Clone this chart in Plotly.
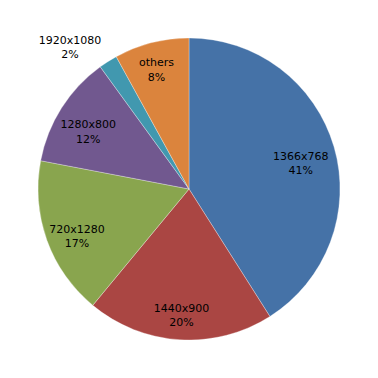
import plotly.graph_objects as go

labels = ["1366x768", "1440x900", "720x1280", "1280x800", "1920x1080", "others"]
values = [41, 20, 17, 12, 2, 8]
colors = ["#4572A7", "#AA4643", "#89A54E", "#71588F", "#4198AF", "#DB843D"]
outside_pos = ["none", "none", "none", "none", "outside", "none"]
inside_pos = ["inside", "inside", "inside", "inside", "none", "inside"]
label_pull = [0.0, 0.025, 0.018, 0.02, 0.0, 0.06]

S = 378.0
R = 151.0
tfont = dict(family="DejaVu Sans", size=11, color="black")
clear = ["rgba(0,0,0,0)"] * len(labels)

fig = go.Figure()
# the visible pie
fig.add_trace(go.Pie(
    labels=labels, values=values, sort=False,
    direction="clockwise", rotation=0,
    marker=dict(colors=colors, line=dict(color="rgba(255,255,255,0.6)", width=0.5)),
    textinfo="none",
    hoverinfo="label+percent",
    domain=dict(x=[30/S, 332/S], y=[46/S, 348/S]),
    showlegend=False,
))
# transparent overlay holding the outside label
fig.add_trace(go.Pie(
    labels=labels, values=values, sort=False,
    direction="clockwise", rotation=0,
    marker=dict(colors=clear, line=dict(width=0)),
    texttemplate="%{label}<br>%{percent:.0%}",
    textposition=outside_pos,
    textfont=tfont,
    hoverinfo="skip",
    domain=dict(x=[30/S, 332/S], y=[50/S, 352/S]),
    showlegend=False,
))
# transparent ring overlay holding the inside labels
half = R * (1 + max(label_pull))
cx, cy = 181.0, 378.0 - 188.0
fig.add_trace(go.Pie(
    labels=labels, values=values, sort=False,
    direction="clockwise", rotation=0,
    hole=0.54,
    pull=label_pull,
    marker=dict(colors=clear, line=dict(width=0)),
    texttemplate="%{label}<br>%{percent:.0%}",
    textposition=inside_pos,
    insidetextorientation="horizontal",
    textfont=tfont,
    hoverinfo="skip",
    domain=dict(x=[(cx - half)/S, (cx + half)/S], y=[(cy - half)/S, (cy + half)/S]),
    showlegend=False,
))
fig.update_layout(
    width=378, height=378,
    margin=dict(l=0, r=0, t=0, b=0),
    paper_bgcolor="white",
    plot_bgcolor="white",
    uniformtext=dict(minsize=11, mode="show"),
)
fig.write_html("out.html")
